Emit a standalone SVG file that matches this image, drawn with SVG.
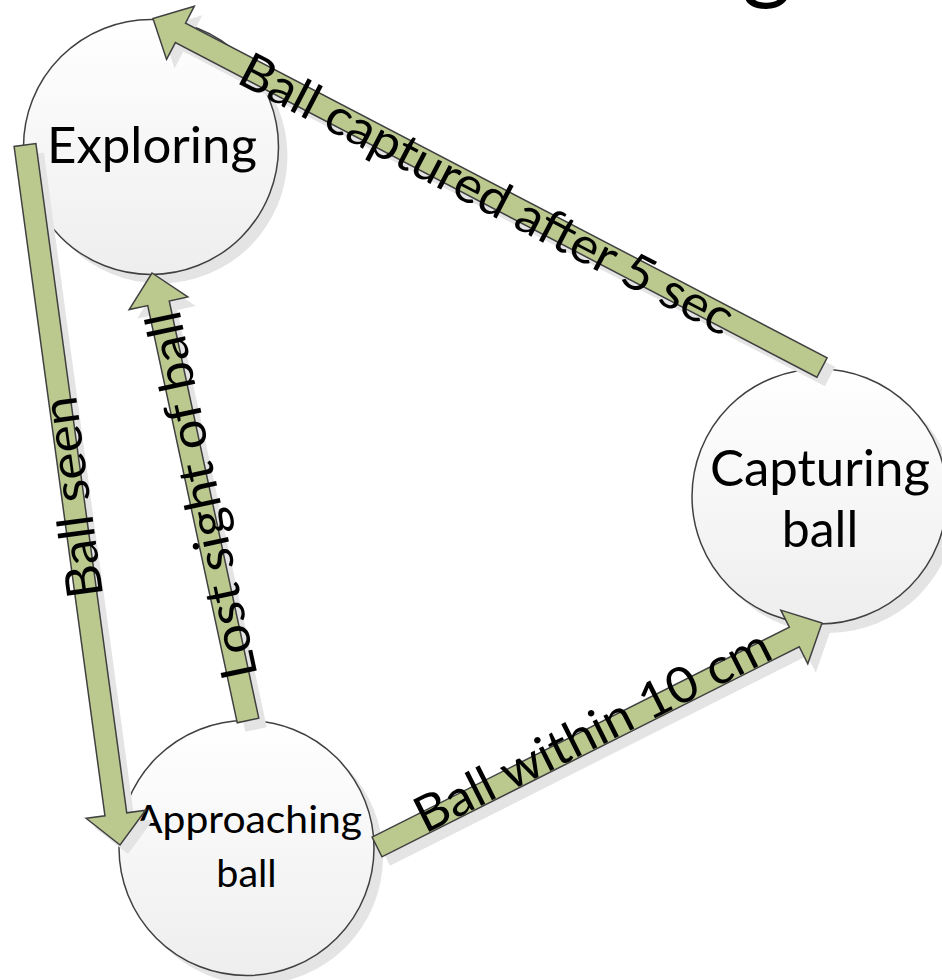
<svg xmlns="http://www.w3.org/2000/svg" width="942" height="980" viewBox="0 0 942 980">
<defs>
<linearGradient id="cf" x1="0" y1="0" x2="0" y2="1">
<stop offset="0" stop-color="#ffffff"/>
<stop offset="1" stop-color="#eeeeee"/>
</linearGradient>
<style>
.csh{fill:#e4e4e4;}
.circ{fill:url(#cf);stroke:#404040;stroke-width:1.5;}
.ash{fill:#e4e4e4;}
.arr{fill:#bbc98f;stroke:#404040;stroke-width:1.5;stroke-linejoin:miter;}
.t{font-family:Lato,"Liberation Sans",sans-serif;fill:#000;text-anchor:middle;}
</style>
</defs>
<rect width="942" height="980" fill="#ffffff"/>
<text class="t" x="767" y="-9" font-size="96">g</text>
<g id="nodes">
<g id="exploring">
<circle class="csh" cx="160" cy="156" r="127.5"/>
<circle class="circ" cx="151" cy="147" r="127.5"/>
<text class="t" x="152" y="163" font-size="50" textLength="210" lengthAdjust="spacingAndGlyphs">Exploring</text>
</g>
<g id="approaching">
<circle class="csh" cx="255.5" cy="857" r="127.5"/>
<circle class="circ" cx="246.5" cy="848" r="127.5"/>
<text class="t" x="248.5" y="833" font-size="39.5" textLength="227" lengthAdjust="spacingAndGlyphs">Approaching</text>
<text class="t" x="246.5" y="887" font-size="39.5">ball</text>
</g>
<g id="capturing">
<circle class="csh" cx="828.5" cy="505.5" r="127.5"/>
<circle class="circ" cx="819.5" cy="496.5" r="127.5"/>
<text class="t" x="820" y="486" font-size="50" textLength="220" lengthAdjust="spacingAndGlyphs">Capturing</text>
<text class="t" x="820" y="547" font-size="50">ball</text>
</g>
</g>
<g id="connectors">
<g id="e-captured">
<polygon class="ash" transform="translate(830,376.5) rotate(207.55)" points="0,-11 723.6,-11 723.6,-30 754.6,0 723.6,30 723.6,11 0,11"/>
<polygon class="arr" transform="translate(822,367.5) rotate(207.55)" points="0,-11 723.6,-11 723.6,-30 754.6,0 723.6,30 723.6,11 0,11"/>
<text class="t" font-size="50" transform="translate(478.8,209.2) rotate(27.55)" textLength="550" lengthAdjust="spacingAndGlyphs">Ball captured after 5 sec</text>
</g>
<g id="e-within">
<polygon class="ash" transform="translate(385,856) rotate(-26.72)" points="0,-11 467.2,-11 467.2,-30 498.2,0 467.2,30 467.2,11 0,11"/>
<polygon class="arr" transform="translate(377,847) rotate(-26.72)" points="0,-11 467.2,-11 467.2,-30 498.2,0 467.2,30 467.2,11 0,11"/>
<text class="t" font-size="50" transform="translate(600.1,745.9) rotate(-26.72)" textLength="392" lengthAdjust="spacingAndGlyphs">Ball within 10 cm</text>
</g>
<g id="e-seen">
<polygon class="ash" transform="translate(33,154) rotate(82.27)" points="0,-11 675.4,-11 675.4,-30 706.4,0 675.4,30 675.4,11 0,11"/>
<polygon class="arr" transform="translate(25,145) rotate(82.27)" points="0,-11 675.4,-11 675.4,-30 706.4,0 675.4,30 675.4,11 0,11"/>
<text class="t" font-size="50" transform="translate(89.6,495.2) rotate(-97.73)" textLength="203" lengthAdjust="spacingAndGlyphs">Ball seen</text>
</g>
<g id="e-lost">
<polygon class="ash" transform="translate(256,729.5) rotate(-102.11)" points="0,-11 426.7,-11 426.7,-30 457.7,0 426.7,30 426.7,11 0,11"/>
<polygon class="arr" transform="translate(248,720.5) rotate(-102.11)" points="0,-11 426.7,-11 426.7,-30 457.7,0 426.7,30 426.7,11 0,11"/>
<text class="t" font-size="50" transform="translate(218.4,492) rotate(-102.11)" textLength="375" lengthAdjust="spacingAndGlyphs">Lost sight of ball</text>
</g>
</g>
</svg>
